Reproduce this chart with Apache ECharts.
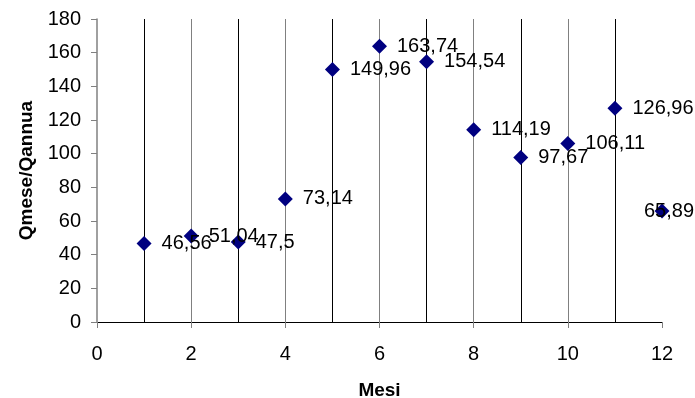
<!DOCTYPE html>
<html>
<head>
<meta charset="utf-8">
<script src="https://cdn.jsdelivr.net/npm/echarts@6/dist/echarts.min.js"></script>
<style>html,body{margin:0;padding:0;background:#fff}#c{width:695px;height:398px}</style>
</head>
<body>
<div id="c"></div>
<script>
const months = [1,2,3,4,5,6,7,8,9,10,11,12];
const values = [46.56,51.04,47.5,73.14,149.96,163.74,154.54,114.19,97.67,106.11,126.96,65.89];
const labels = ['46,56','51,04','47,5','73,14','149,96','163,74','154,54','114,19','97,67','106,11','126,96','65,89'];

const chart = echarts.init(document.getElementById('c'), null, {renderer:'canvas'});
const data = months.map((m,i)=>{
  const d = {value:[m, values[i]], lbl: labels[i]};
  if (i === months.length-1) d.label = {position:'inside', offset:[7,0]};
  return d;
});
chart.setOption({
  animation:false,
  backgroundColor:'#fff',
  grid:{left:97, right:33, top:19, bottom:76, outerBoundsMode:'none', containLabel:false},
  xAxis:{
    type:'value', min:0, max:12, interval:2,
    name:'Mesi', nameLocation:'middle', nameGap:59,
    nameTextStyle:{fontFamily:'Liberation Sans, Arial', fontSize:19, fontWeight:'bold', color:'#000'},
    axisLine:{show:true, onZero:false, lineStyle:{color:'#000', width:1}},
    axisTick:{show:true, length:6, lineStyle:{color:'#808080'}},
    axisLabel:{fontFamily:'Liberation Sans, Arial', fontSize:20, color:'#000', margin:22},
    splitLine:{show:true, showMinLine:false, showMaxLine:false, lineStyle:{color:'#808080', width:1}},
    minorTick:{show:false, splitNumber:2},
    minorSplitLine:{show:true, lineStyle:{color:'#000', width:1}}
  },
  yAxis:{
    type:'value', min:0, max:180, interval:20,
    name:'Qmese/Qannua', nameLocation:'middle', nameGap:58,
    nameTextStyle:{fontFamily:'Liberation Sans, Arial', fontSize:19, fontWeight:'bold', color:'#000'},
    axisLine:{show:true, lineStyle:{color:'#808080', width:1.5}},
    axisTick:{show:true, length:6, lineStyle:{color:'#808080'}},
    axisLabel:{fontFamily:'Liberation Sans, Arial', fontSize:20, color:'#000', margin:16},
    splitLine:{show:false}
  },
  series:[{
    type:'scatter',
    symbol:'diamond',
    symbolSize:15,
    itemStyle:{color:'#000080', opacity:1},
    data:data,
    label:{show:true, position:'right', distance:10, fontFamily:'Liberation Sans, Arial', fontSize:20, color:'#000',
      formatter:p=>p.data.lbl}
  }]
});
</script>
</body>
</html>
